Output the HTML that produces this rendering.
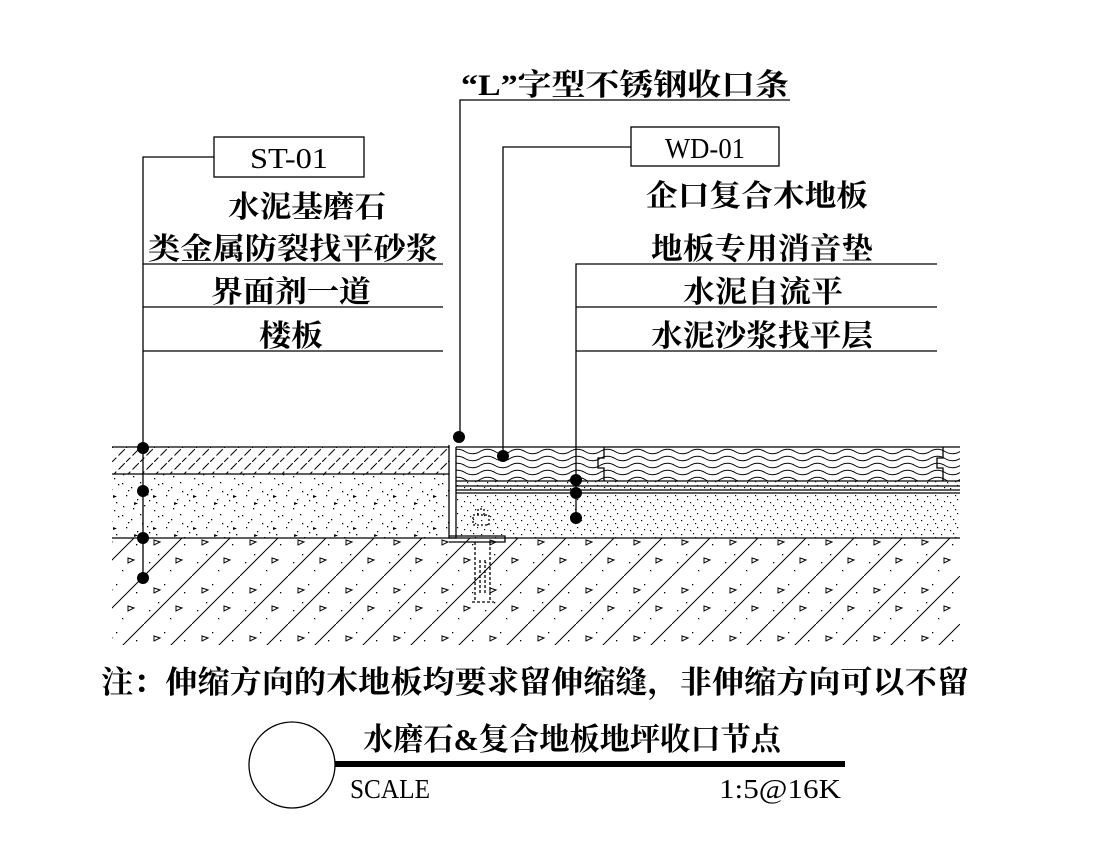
<!DOCTYPE html>
<html><head><meta charset="utf-8"><style>
html,body{margin:0;padding:0;background:#fff}
svg{display:block}
text{font-family:"Liberation Serif","Noto Serif CJK SC",serif;fill:#000}
.c{font-weight:bold}
</style></head><body>
<svg width="1118" height="861" viewBox="0 0 1118 861" xmlns="http://www.w3.org/2000/svg">
<defs>
<pattern id="hatch" width="14" height="14" patternUnits="userSpaceOnUse">
<path d="M-2,16 L16,-2" stroke="#000" stroke-width="1" stroke-dasharray="9,3"/>
</pattern>
<pattern id="dots" width="40" height="32" patternUnits="userSpaceOnUse">
<g fill="#000">
<rect x="2" y="3" width="1.3" height="1.3"/><rect x="11" y="7" width="1.3" height="1.3"/><rect x="20" y="2" width="1.3" height="1.3"/><rect x="31" y="9" width="1.3" height="1.3"/><rect x="6" y="15" width="1.3" height="1.3"/><rect x="17" y="19" width="1.3" height="1.3"/><rect x="27" y="14" width="1.3" height="1.3"/><rect x="36" y="22" width="1.3" height="1.3"/><rect x="3" y="26" width="1.3" height="1.3"/><rect x="13" y="28" width="1.3" height="1.3"/><rect x="24" y="25" width="1.3" height="1.3"/><rect x="34" y="30" width="1.3" height="1.3"/><rect x="8" y="10" width="1.3" height="1.3"/><rect x="38" y="4" width="1.3" height="1.3"/><rect x="22" y="11" width="1.3" height="1.3"/><rect x="29" y="20" width="1.3" height="1.3"/>
<path d="M14,22 l4,1.5 -4,1.5z M33,15 l4,1.5 -4,1.5z"/>
</g>
</pattern>
<pattern id="fdots" width="20" height="14" patternUnits="userSpaceOnUse">
<g fill="#000"><rect x="1" y="2" width="1.2" height="1.2"/><rect x="7" y="6" width="1.2" height="1.2"/><rect x="13" y="1" width="1.2" height="1.2"/><rect x="17" y="9" width="1.2" height="1.2"/><rect x="4" y="11" width="1.2" height="1.2"/><rect x="10" y="12" width="1.2" height="1.2"/><rect x="15" y="5" width="1.2" height="1.2"/></g>
</pattern>
<pattern id="slab" width="48" height="48" patternUnits="userSpaceOnUse">
<path d="M-2,50 L50,-2" stroke="#000" stroke-width="1"/>
<g fill="none" stroke="#000" stroke-width="1"><path d="M10,12 l6,2 -6,3z"/><path d="M32,30 l6,2 -6,3z"/></g>
<g fill="#000"><rect x="20" y="8" width="1.3" height="1.3"/><rect x="5" y="34" width="1.3" height="1.3"/><rect x="40" y="16" width="1.3" height="1.3"/><rect x="26" y="42" width="1.3" height="1.3"/><rect x="14" y="26" width="1.3" height="1.3"/></g>
</pattern>
<pattern id="wood" width="30" height="7" patternUnits="userSpaceOnUse">
<path d="M0,3.5 Q7.5,-1 15,3.5 T30,3.5" fill="none" stroke="#000" stroke-width="1"/>
</pattern>
</defs>

<rect x="112" y="538" width="848" height="107" fill="url(#slab)"/>
<rect x="112" y="447" width="337" height="27" fill="url(#hatch)"/>
<rect x="112" y="474" width="337" height="64" fill="url(#dots)"/>
<rect x="456" y="447" width="504" height="34" fill="url(#wood)"/>
<rect x="456" y="481" width="504" height="9" fill="url(#fdots)"/>
<rect x="456" y="493" width="504" height="45" fill="url(#fdots)"/>
<g stroke="#000" stroke-width="1.3" fill="none">
<path d="M112,447 H449 M112,474 H449 M112,538 H960"/>
<path d="M456,447 H960 M456,481 H960 M456,486 H960 M456,490 H960 M456,493 H960"/>
<path d="M449,445 V538 H456 V447"/>
<path d="M449,536 H505 V542 H449"/>
<path d="M604,447 V458 H598 V468 H604 V481"/>
<path d="M943,447 V458 H937 V468 H943 V481"/>
<path d="M473,525 h16 v-10 h-16z M478,515 v-6 h6 v6" stroke-dasharray="2,2"/>
<path d="M475,542 v60 M490,542 v60 M472,602 h22 M480,560 v35 M485,560 v35" stroke-dasharray="3,2"/>
</g>

<g stroke="#000" stroke-width="1.3" fill="none">
<path d="M143,578 V157 H214"/>
<rect x="214" y="137" width="150" height="40"/>
<path d="M143,264 H443 M143,307 H443 M143,351 H443"/>
<path d="M460,437 V100 H790"/>
<path d="M503,456 V147 H631"/>
<rect x="631" y="127" width="148" height="39"/>
<path d="M576,518 V264 H937 M576,307 H937 M576,351 H937"/>
</g>
<g fill="#000">
<circle cx="143" cy="448" r="6"/><circle cx="143" cy="491" r="6"/><circle cx="143" cy="538" r="6"/><circle cx="143" cy="578" r="6"/>
<circle cx="459" cy="437" r="6"/><circle cx="503" cy="456" r="6"/>
<circle cx="576" cy="480" r="6"/><circle cx="576" cy="493" r="6"/><circle cx="576" cy="518" r="6"/>
</g>

<text x="250" y="168" font-size="28" textLength="78" lengthAdjust="spacingAndGlyphs">ST-01</text>
<text x="665" y="158" font-size="28" textLength="80" lengthAdjust="spacingAndGlyphs">WD-01</text>
<text class="c" x="228" y="217" font-size="30" textLength="158" lengthAdjust="spacingAndGlyphs">水泥基磨石</text>
<text class="c" x="148" y="259" font-size="30" textLength="290" lengthAdjust="spacingAndGlyphs">类金属防裂找平砂浆</text>
<text class="c" x="211" y="302" font-size="30" textLength="160" lengthAdjust="spacingAndGlyphs">界面剂一道</text>
<text class="c" x="259" y="346" font-size="30" textLength="64" lengthAdjust="spacingAndGlyphs">楼板</text>
<text class="c" x="461" y="95" font-size="30" textLength="328" lengthAdjust="spacingAndGlyphs">“L”字型不锈钢收口条</text>
<text class="c" x="646" y="206" font-size="30" textLength="222" lengthAdjust="spacingAndGlyphs">企口复合木地板</text>
<text class="c" x="651" y="259" font-size="30" textLength="222" lengthAdjust="spacingAndGlyphs">地板专用消音垫</text>
<text class="c" x="683" y="302" font-size="30" textLength="160" lengthAdjust="spacingAndGlyphs">水泥自流平</text>
<text class="c" x="651" y="346" font-size="30" textLength="222" lengthAdjust="spacingAndGlyphs">水泥沙浆找平层</text>

<text class="c" x="101" y="693" font-size="31" textLength="868" lengthAdjust="spacingAndGlyphs">注：伸缩方向的木地板均要求留伸缩缝，非伸缩方向可以不留</text>
<circle cx="292" cy="765" r="43" fill="none" stroke="#000" stroke-width="1.3"/>
<rect x="335" y="761" width="510" height="6" fill="#000"/>
<text class="c" x="363" y="750" font-size="31" textLength="418" lengthAdjust="spacingAndGlyphs">水磨石&amp;复合地板地坪收口节点</text>
<text x="350" y="798" font-size="27" textLength="80" lengthAdjust="spacingAndGlyphs">SCALE</text>
<text x="719" y="798" font-size="27" textLength="122" lengthAdjust="spacingAndGlyphs">1:5@16K</text>
</svg>
</body></html>
